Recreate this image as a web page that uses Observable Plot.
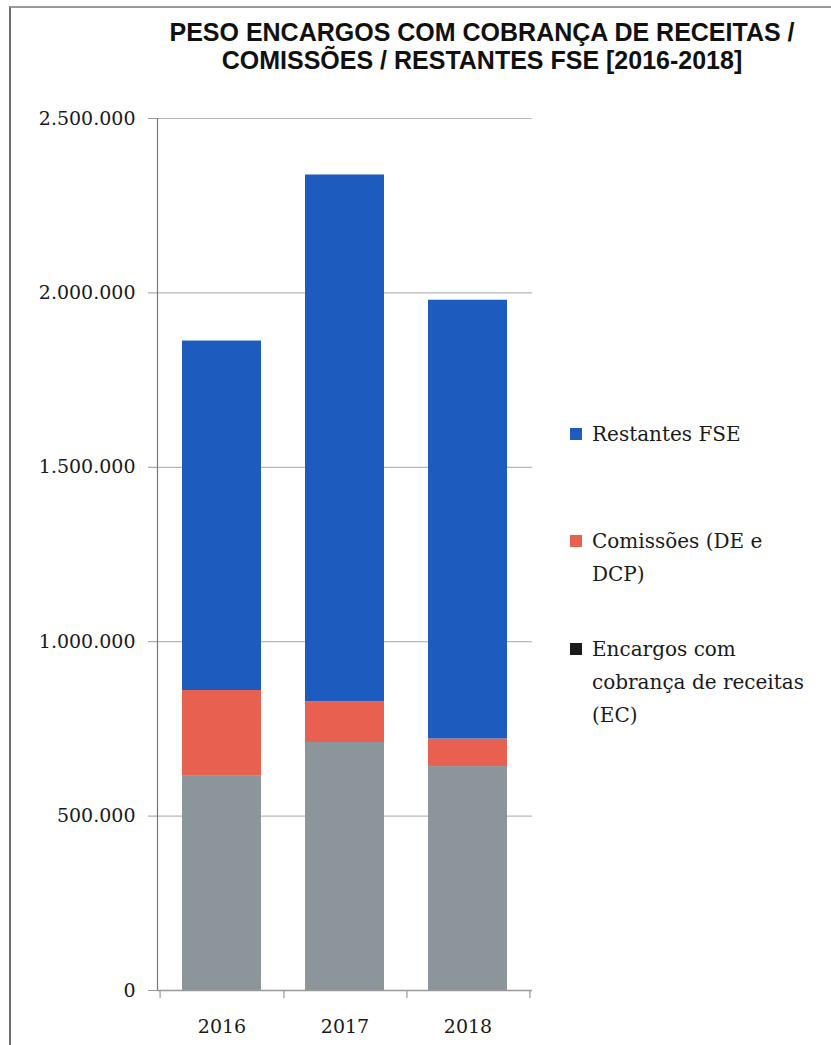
<!DOCTYPE html>
<html>
<head>
<meta charset="utf-8">
<script src="https://cdn.jsdelivr.net/npm/d3@7"></script>
<script src="https://cdn.jsdelivr.net/npm/@observablehq/plot@0.6"></script>
<style>
  html, body { margin: 0; padding: 0; background: #fff; }
  #wrap { position: relative; width: 831px; height: 1045px; overflow: hidden; background: #fff; }
  #frame { position: absolute; left: 9px; top: 6px; right: -10px; bottom: -10px; border-left: 2px solid #6f6f6f; border-top: 2px solid #9a9a9a; }
  #title { position: absolute; left: 132px; width: 700px; top: 18px; text-align: center;
           font-family: "Liberation Sans", Arial, sans-serif; font-weight: bold; font-size: 25px; line-height: 28px; color: #111; }
  #chart { position: absolute; left: 0; top: 90px; }
  .leg { position: absolute; left: 592px; font-family: "DejaVu Serif", serif; font-size: 20px; line-height: 33px; color: #1a1a1a; white-space: nowrap; }
  .sw { position: absolute; left: 570px; width: 12px; height: 12px; }
</style>
</head>
<body>
<div id="wrap">
  <div id="frame"></div>
  <div id="title">PESO ENCARGOS COM COBRANÇA DE RECEITAS /<br>COMISSÕES / RESTANTES FSE [2016-2018]</div>
  <div id="chart"></div>
  <div id="legend"></div>
</div>
<script>
const years = ["2016", "2017", "2018"];
const encargosEC = [616000, 711000, 642000];
const comissoes = [244000, 117000, 79000];
const restantesFSE = [1002000, 1510000, 1258000];
const seriesNames = ["Encargos com cobrança de receitas (EC)", "Comissões (DE e DCP)", "Restantes FSE"];
const seriesColors = ["#8c9599", "#e8604f", "#1d5bbf"];
const legendLines = [["Restantes FSE"], ["Comissões (DE e", "DCP)"], ["Encargos com", "cobrança de receitas", "(EC)"]];
const legendSwatch = ["#1d5bbf", "#e8604f", "#1a1a1a"];
const yTicks = [0, 500000, 1000000, 1500000, 2000000, 2500000];

const rows = [];
years.forEach((y, i) => {
  rows.push({year: y, series: seriesNames[0], value: encargosEC[i]});
  rows.push({year: y, series: seriesNames[1], value: comissoes[i]});
  rows.push({year: y, series: seriesNames[2], value: restantesFSE[i]});
});

const W = 560, H = 955, mL = 157, mR = 28, mT = 28, mB = 55;
const pIn = 0.36, pOut = 0.194;
const step = (W - mL - mR) / (years.length - pIn + 2 * pOut);
const fmt = d => d3.format(",")(d).replace(/,/g, ".");

const plot = Plot.plot({
  width: W, height: H,
  marginLeft: mL, marginRight: mR, marginTop: mT, marginBottom: mB,
  style: {fontFamily: "'DejaVu Serif', serif", fontSize: "19px", color: "#1a1a1a", background: "transparent"},
  x: {domain: years, paddingInner: pIn, paddingOuter: pOut, label: null},
  y: {domain: [0, 2500000], label: null},
  color: {domain: seriesNames, range: seriesColors},
  marks: [
    Plot.ruleY(yTicks.slice(1), {stroke: "#b8b8b8", strokeWidth: 1.2}),
    Plot.axisY({ticks: yTicks, tickFormat: fmt, tickSize: 9, tickPadding: 13, stroke: "#999", label: null, fontSize: 19}),
    Plot.barY(rows, Plot.stackY({x: "year", y: "value", fill: "series", order: seriesNames})),
    Plot.frame({anchor: "left", stroke: "#777", strokeWidth: 1.2}),
    Plot.ruleY([0], {stroke: "#999", strokeWidth: 1.5}),
    Plot.ruleX(years, {x: d => d, dx: step / 2, y1: 0, y2: 0, insetBottom: -8, stroke: "#999", strokeWidth: 1.2}),
    Plot.ruleX(years.slice(0, 1), {x: d => d, dx: -step / 2, y1: 0, y2: 0, insetBottom: -8, stroke: "#999", strokeWidth: 1.2}),
    Plot.axisX({tickSize: 0, tickPadding: 29, label: null, fontSize: 19})
  ]
});
document.getElementById("chart").appendChild(plot);

const legendTops = [418, 525, 633];
const lg = document.getElementById("legend");
legendLines.forEach((lines, i) => {
  const t = document.createElement("div");
  t.className = "leg";
  t.style.top = legendTops[i] + "px";
  t.innerHTML = lines.join("<br>");
  lg.appendChild(t);
  const s = document.createElement("div");
  s.className = "sw";
  s.style.top = (legendTops[i] + 23 - 13) + "px";
  s.style.background = legendSwatch[i];
  lg.appendChild(s);
});
</script>
</body>
</html>
